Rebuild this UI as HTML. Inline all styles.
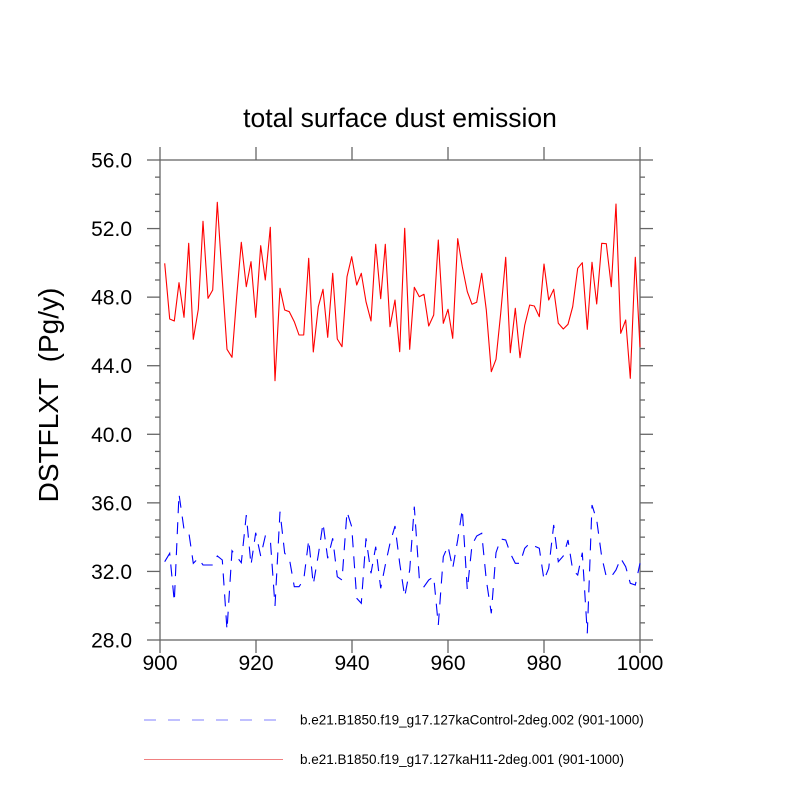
<!DOCTYPE html>
<html><head><meta charset="utf-8"><style>
html,body{margin:0;padding:0;background:#fff;}
svg{display:block;font-family:"Liberation Sans",Arial,sans-serif;}
</style></head><body>
<svg id="s" width="800" height="800" viewBox="0 0 800 800" xmlns="http://www.w3.org/2000/svg">
<rect width="800" height="800" fill="#fff"/>
<text x="400" y="127" font-size="26.5" text-anchor="middle">total surface dust emission</text>
<g id="ax" stroke="#666" stroke-width="1.3" fill="none"></g>
<g id="lab" font-size="21" fill="#000"></g>
<text transform="translate(58,395) rotate(-90)" font-size="28" text-anchor="middle">DSTFLXT&#160;&#160;(Pg/y)</text>
<g id="data"></g>
<line x1="144" y1="720" x2="276" y2="720" stroke="#8080ff" stroke-width="1" stroke-dasharray="12,12"/>
<text x="300" y="724.5" font-size="13.5">b.e21.B1850.f19_g17.127kaControl-2deg.002 (901-1000)</text>
<line x1="144" y1="759.5" x2="283" y2="759.5" stroke="#f08080" stroke-width="1"/>
<text x="300" y="764" font-size="13.5">b.e21.B1850.f19_g17.127kaH11-2deg.001 (901-1000)</text>
</svg>
<script>
var NS="http://www.w3.org/2000/svg";
function el(p,t,a,txt){var e=document.createElementNS(NS,t);for(var k in a)e.setAttribute(k,a[k]);if(txt!==undefined)e.textContent=txt;p.appendChild(e);return e;}
var ax=document.getElementById('ax'),lab=document.getElementById('lab'),data=document.getElementById('data');
el(ax,'rect',{x:160,y:160,width:480,height:480});
function Y(v){return 640-(v-28)*480/28;}
for(var v=28;v<=56;v++){var y=Y(v),maj=(v%4==0);var L=maj?13:5;
 el(ax,'line',{x1:160-L,y1:y,x2:160,y2:y});el(ax,'line',{x1:640,y1:y,x2:640+L,y2:y});
 if(maj)el(lab,'text',{x:132,y:y+7.5,'text-anchor':'end'},v.toFixed(1));}
for(var yr=900;yr<=1000;yr+=20){var x=160+(yr-900)*4.8;
 el(ax,'line',{x1:x,y1:147,x2:x,y2:160});el(ax,'line',{x1:x,y1:640,x2:x,y2:653});
 el(lab,'text',{x:x,y:670,'text-anchor':'middle'},String(yr));}
var r1=[[74,370],[89,537],[103,543],[117,428],[132,532],[146,310],[160,598],[175,508],[189,244],[204,475],[218,450],[232,187],[247,420],[261,628],[276,652],[290,470],[304,307],[319,440],[333,365],[347,532],[362,317],[376,420],[391,262],[405,722],[420,445],[434,510],[448,515],[463,545],[477,585],[491,585],[506,355],[520,636],[535,500],[549,448],[563,592],[578,400],[592,597],[606,620],[621,410],[635,350],[650,435],[664,400],[678,485],[693,543],[707,313],[722,476],[736,313],[750,560],[765,480],[779,635]];
var r2=[[14,265],[29,628],[43,442],[58,470],[72,463],[86,558],[101,525],[115,300],[130,550],[144,508],[158,595],[173,296],[187,380],[202,455],[216,493],[230,487],[245,400],[259,510],[274,695],[288,658],[302,520],[317,352],[331,638],[346,505],[360,653],[374,556],[389,495],[403,498],[418,530],[432,372],[446,480],[461,448],[475,550],[490,567],[504,553],[518,500],[533,385],[547,368],[562,568],[576,367],[590,492],[605,310],[619,311],[634,440],[648,192],[662,580],[677,540],[691,715],[706,352],[720,622]];
var b1=[[74,1265],[89,1240],[103,1385],[117,1062],[132,1168],[146,1175],[160,1270],[175,1255],[189,1275],[204,1275],[218,1275],[232,1248],[247,1260],[261,1470],[276,1232],[290,1250],[304,1268],[319,1125],[333,1275],[347,1178],[362,1248],[376,1188],[391,1198],[405,1398],[420,1115],[434,1240],[448,1255],[463,1340],[477,1340],[491,1320],[506,1200],[520,1333],[535,1245],[549,1150],[563,1255],[578,1195],[592,1310],[606,1320],[621,1115],[635,1160],[650,1375],[664,1390],[678,1195],[693,1300],[707,1220],[722,1345],[736,1275],[750,1210],[765,1158],[779,1270]];
var b2=[[14,1370],[29,1290],[43,1100],[58,1315],[72,1340],[86,1320],[101,1310],[115,1455],[130,1250],[144,1218],[158,1285],[173,1200],[187,1108],[202,1350],[216,1215],[230,1188],[245,1180],[259,1320],[274,1420],[288,1238],[302,1197],[317,1200],[331,1240],[346,1270],[360,1270],[374,1225],[389,1210],[403,1218],[418,1225],[432,1320],[446,1285],[461,1155],[475,1265],[490,1248],[504,1200],[518,1290],[533,1305],[547,1238],[562,1480],[576,1095],[590,1140],[605,1250],[619,1310],[634,1310],[648,1290],[662,1255],[677,1280],[691,1330],[706,1335],[720,1270]];
function pts(a,ox){return a.map(function(p){return (ox+p[0]/3).toFixed(1)+','+(140+p[1]/3).toFixed(1);});}
var red=pts(r1,140).concat(pts(r2,400)).join(' ');
var blue=pts(b1,140).concat(pts(b2,400)).join(' ');
el(data,'polyline',{points:red,fill:'none',stroke:'#ff0000','stroke-width':1.1,'stroke-linejoin':'round'});
el(data,'polyline',{points:blue,fill:'none',stroke:'#0000ff','stroke-width':1.1,'stroke-dasharray':'12,9'});
</script>
</body></html>
